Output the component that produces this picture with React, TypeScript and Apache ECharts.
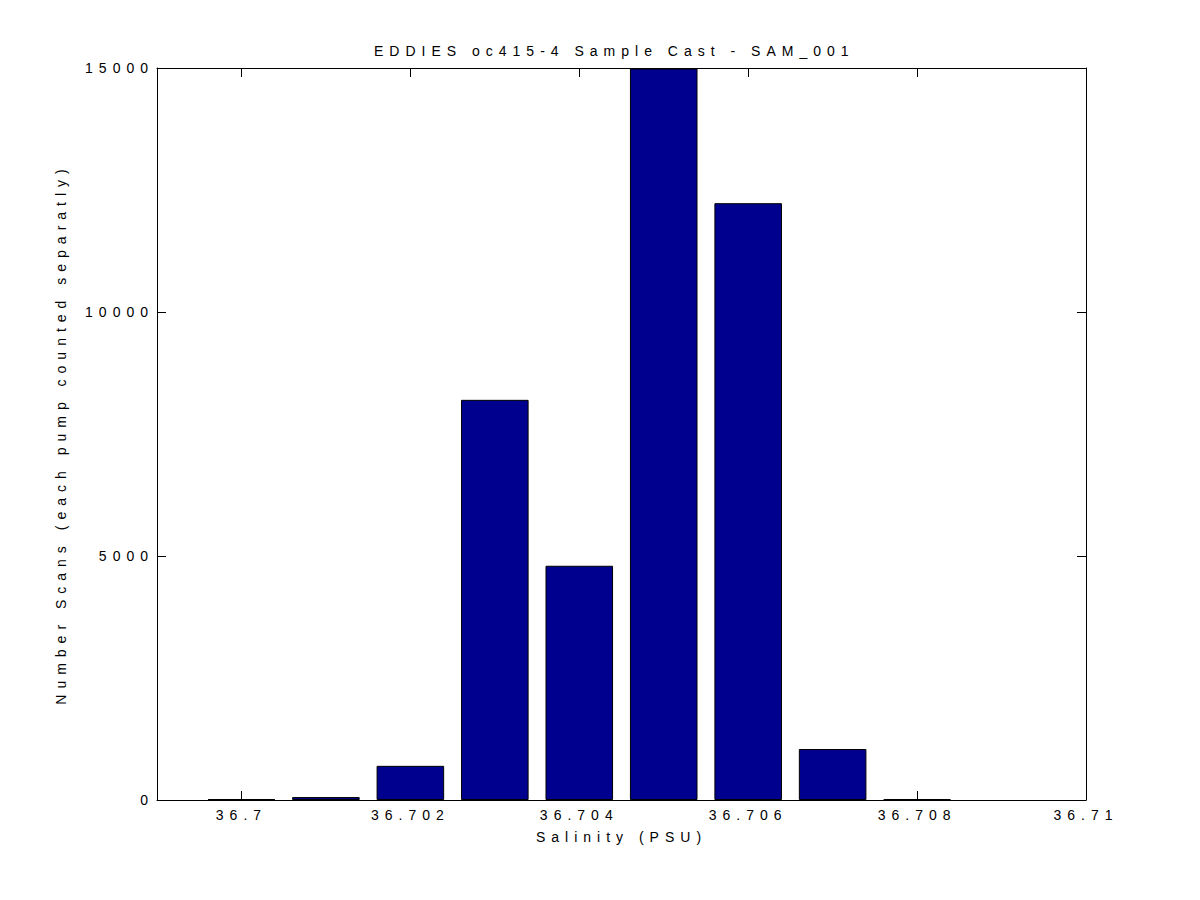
import React, { useEffect, useRef } from "react";
import * as echarts from "echarts";

const titleText = "EDDIES oc415-4 Sample Cast - SAM_001";
const xAxisName = "Salinity (PSU)";
const yAxisName = "Number Scans (each pump counted separatly)";

const salinity = [36.7, 36.701, 36.702, 36.703, 36.704, 36.705, 36.706, 36.707, 36.708];
const scanCounts = [20, 60, 700, 8200, 4800, 14990, 12230, 1045, 20];

const xTicks = [36.7, 36.702, 36.704, 36.706, 36.708, 36.71];
const xTickLabels = ["36.7", "36.702", "36.704", "36.706", "36.708", "36.71"];
const yTicks = [0, 5000, 10000, 15000];
const yTickLabels = ["0", "5000", "10000", "15000"];

const FONT = "'Liberation Sans', Arial, Helvetica, sans-serif";

export default function App() {
  const ref = useRef<HTMLDivElement>(null);

  useEffect(() => {
    if (!ref.current) return;
    const chart = echarts.init(ref.current, undefined, { renderer: "svg" });

    const labelFor = (ticks: number[], labels: string[], v: number) => {
      for (let i = 0; i < ticks.length; i++) {
        if (Math.abs(ticks[i] - v) < 1e-7) return labels[i];
      }
      return "";
    };

    const textStyle = { fontFamily: FONT, fontSize: 14, color: "#000", fontWeight: "normal" as const };

    chart.setOption({
      animation: false,
      backgroundColor: "#fff",
      title: {
        text: titleText,
        left: 369,
        top: 39,
        textStyle: { ...textStyle },
      },
      grid: { left: 157, right: 114, top: 68, bottom: 100, containLabel: false },
      xAxis: [
        {
          type: "value",
          min: 36.699,
          max: 36.71,
          position: "bottom",
          name: xAxisName,
          nameLocation: "middle",
          nameGap: 30,
          nameTextStyle: { ...textStyle },
          axisLine: { show: true, onZero: false, lineStyle: { color: "#000", width: 1 } },
          axisTick: { show: true, inside: true, length: 9, customValues: xTicks, lineStyle: { color: "#000" } },
          axisLabel: {
            show: true,
            margin: 8,
            customValues: xTicks,
            formatter: (v: number) => labelFor(xTicks, xTickLabels, v),
            ...textStyle,
          },
          splitLine: { show: false },
        },
        {
          type: "value",
          min: 36.699,
          max: 36.71,
          position: "top",
          axisLine: { show: true, onZero: false, lineStyle: { color: "#000", width: 1 } },
          axisTick: { show: true, inside: true, length: 9, customValues: xTicks, lineStyle: { color: "#000" } },
          axisLabel: { show: false },
          splitLine: { show: false },
        },
      ],
      yAxis: [
        {
          type: "value",
          min: 0,
          max: 15000,
          interval: 5000,
          position: "left",
          name: yAxisName,
          nameLocation: "middle",
          nameGap: 89,
          nameTextStyle: { ...textStyle },
          axisLine: { show: true, onZero: false, lineStyle: { color: "#000", width: 1 } },
          axisTick: { show: true, inside: true, length: 9, lineStyle: { color: "#000" } },
          axisLabel: {
            show: true,
            margin: 3,
            formatter: (v: number) => labelFor(yTicks, yTickLabels, v),
            ...textStyle,
          },
          splitLine: { show: false },
        },
        {
          type: "value",
          min: 0,
          max: 15000,
          interval: 5000,
          position: "right",
          axisLine: { show: true, onZero: false, lineStyle: { color: "#000", width: 1 } },
          axisTick: { show: true, inside: true, length: 9, lineStyle: { color: "#000" } },
          axisLabel: { show: false },
          splitLine: { show: false },
        },
      ],
      series: [
        {
          type: "bar",
          xAxisIndex: 0,
          yAxisIndex: 0,
          barWidth: "80%",
          data: salinity.map((s, i) => [s, scanCounts[i]]),
          itemStyle: { color: "#00008F", borderColor: "#000", borderWidth: 1 },
          emphasis: { disabled: true },
          silent: true,
        },
      ],
    });

    const spaceTexts = () => {
      if (!ref.current) return;
      ref.current.querySelectorAll("text").forEach((t) => {
        (t as SVGTextElement).style.letterSpacing = "6px";
      });
    };
    spaceTexts();
    chart.on("finished", spaceTexts);
    const raf = requestAnimationFrame(spaceTexts);

    return () => {
      cancelAnimationFrame(raf);
      chart.dispose();
    };
  }, []);

  return (
    <div
      ref={ref}
      style={{ position: "absolute", left: 0, top: 0, width: 1200, height: 900, background: "#fff" }}
    />
  );
}
